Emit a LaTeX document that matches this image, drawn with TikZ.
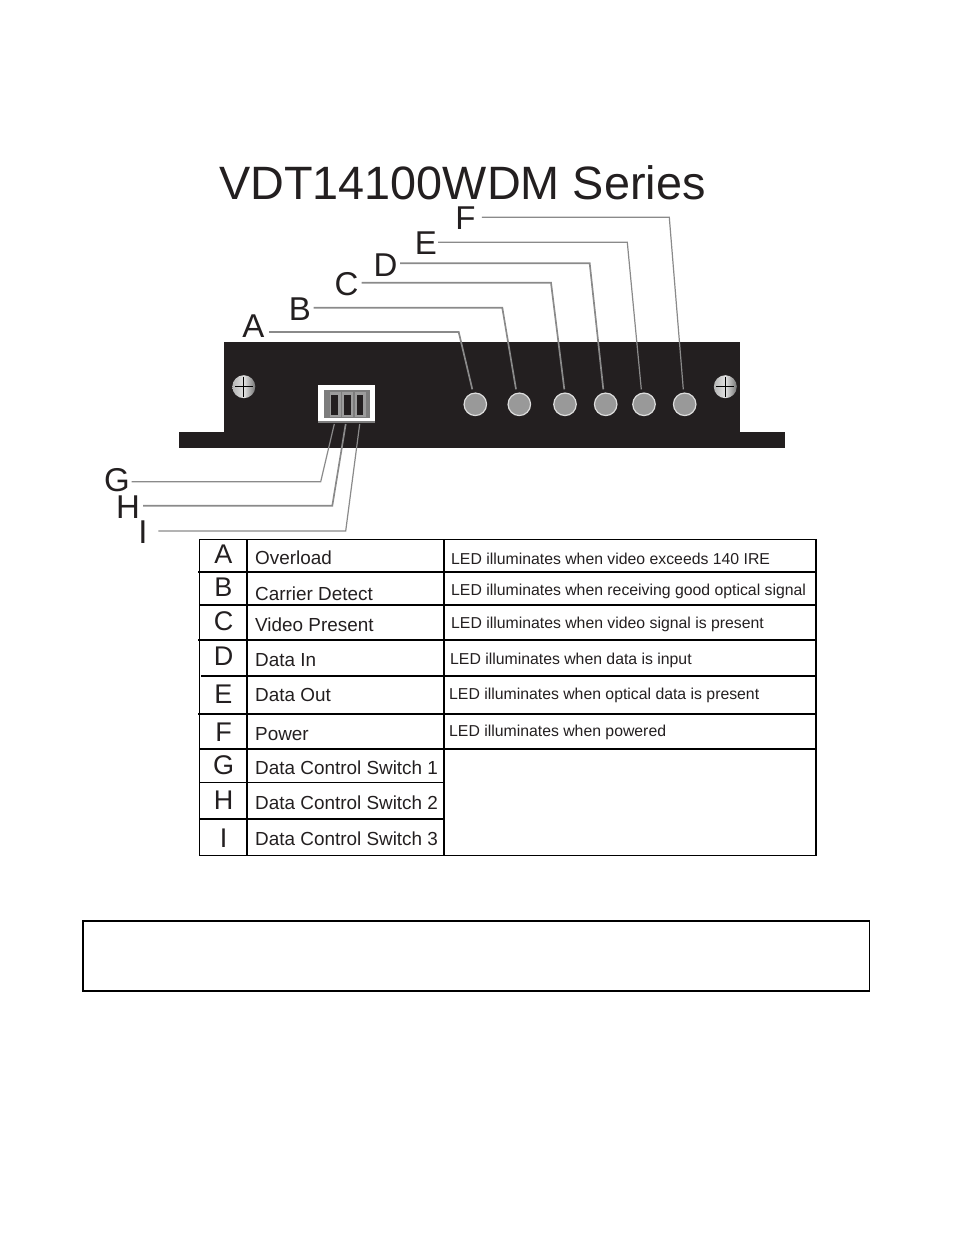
\documentclass[tikz,border=0pt]{standalone}
\usepackage{fontspec}
\setmainfont{Liberation Sans}
\definecolor{devblack}{HTML}{231F20}
\definecolor{leadgray}{HTML}{8A8A8A}
\definecolor{ledgray}{HTML}{999999}
\definecolor{ledring}{HTML}{DDDDDD}
\definecolor{swdark}{HTML}{7D7D7D}
\definecolor{swlight}{HTML}{9C9C9C}
\definecolor{scrl}{HTML}{B5B5B5}
\definecolor{scrm}{HTML}{E2E2E2}
\definecolor{scrr}{HTML}{747474}
\tikzset{
  title/.style={anchor=base west,inner sep=0pt,text=devblack,font=\fontsize{46.8}{47}\selectfont},
  callout/.style={anchor=base,inner sep=0pt,text=devblack,font=\fontsize{33}{33}\selectfont},
  rowkey/.style={anchor=base,inner sep=0pt,text=devblack,font=\fontsize{27}{27}\selectfont},
  rowname/.style={anchor=base west,inner sep=0pt,text=devblack,font=\fontsize{18.9}{19}\selectfont},
  rowinfo/.style={anchor=base west,inner sep=0pt,text=devblack,font=\fontsize{15.8}{16}\selectfont},
  leader/.style={draw=leadgray,line width=1.2pt,line join=miter},
  heavylead/.style={draw=leadgray,line width=1.7pt,line join=miter},
  led/.style={circle,draw=ledring,line width=1.2pt,fill=ledgray,minimum size=22.5pt,inner sep=0pt},
  screw/.style={circle,minimum size=23pt,inner sep=0pt,left color=scrl,right color=scrr,middle color=scrm},
  rule/.style={draw=black,line width=1.8pt},
  thinrule/.style={draw=black,line width=1.3pt},
}
\begin{document}
\begin{tikzpicture}[x=1pt,y=-1pt]
\useasboundingbox (0,0) rectangle (954,1235);
\node[title] (ttl) at (219,199) {VDT14100WDM Series};
% device
\fill[devblack] (224,342) rectangle (740,432);
\fill[devblack] (179,432) rectangle (785,448);
\node[screw] (sl) at (243.8,386.7) {};
\node[screw] (sr) at (725.3,386.7) {};
\draw[black,line width=0.9pt] (235,386.7)--(253,386.7) (243.8,376.5)--(243.8,396.5);
\draw[black,line width=0.9pt] (716,386.7)--(734.3,386.7) (725.3,377)--(725.3,396.7);
\node[led] (la) at (475.3,404.3) {};
\node[led] (lb) at (519.3,404.3) {};
\node[led] (lc) at (565,404.3) {};
\node[led] (ld) at (605.7,404.3) {};
\node[led] (le) at (644,404.3) {};
\node[led] (lf) at (684.7,404.3) {};
% switch
\fill[swdark] (318.3,385.3) rectangle (374.5,422.7);
\fill[white] (318.3,385.3) rectangle (374.5,420.7);
\fill[swdark] (324,390.3) rectangle (370,418);
\fill[swlight] (330,392.3) rectangle (340.7,417.3);
\fill[swlight] (342.3,392.3) rectangle (353.3,417.3);
\fill[swlight] (355,392.3) rectangle (365.7,417.3);
\fill[devblack] (331,394.7) rectangle (338.3,415.3);
\fill[devblack] (343.7,394.7) rectangle (351.3,415.3);
\fill[devblack] (356.7,394.7) rectangle (363.3,415.3);
% callouts
\node[callout] (ka) at (253.5,337) {A};
\node[callout] (kb) at (300,320) {B};
\node[callout] (kc) at (346.5,295.5) {C};
\node[callout] (kd) at (385.5,276) {D};
\node[callout] (ke) at (426,254) {E};
\node[callout] (kf) at (465.5,229) {F};
\node[callout] (kg) at (117,491.5) {G};
\node[callout] (kh) at (128,518.7) {H};
\node[callout] (ki) at (143,543.7) {I};
\coordinate (ca) at (458.7,332);   \coordinate (ta) at (472.3,389.3);
\coordinate (cb) at (502.3,307.7); \coordinate (tb) at (516,389.3);
\coordinate (cc) at (551,282.7);   \coordinate (tc) at (564.3,389.3);
\coordinate (cd) at (589.7,263.3); \coordinate (td) at (603.3,389.3);
\coordinate (ce) at (627.3,242.3); \coordinate (te) at (641.3,389.3);
\coordinate (cf) at (669.3,217.3); \coordinate (tf) at (683.3,389.3);
\coordinate (cg) at (320.7,481.7); \coordinate (tg) at (334.3,424);
\coordinate (ch) at (332.3,505.7); \coordinate (th) at (345.7,424);
\coordinate (ci) at (345.7,531);   \coordinate (ti) at (359.7,424);
\draw[heavylead] ([xshift=4.5pt]ka.east |- ca) -- (ca) -- (ta);
\draw[heavylead] ([xshift=2.5pt]kb.east |- cb) -- (cb) -- (tb);
\draw[heavylead] ([xshift=3pt]kc.east |- cc) -- (cc) -- (tc);
\draw[heavylead] ([xshift=2.5pt]kd.east |- cd) -- (cd) -- (td);
\draw[leader] ([xshift=1pt]ke.east |- ce) -- (ce) -- (te);
\draw[leader] ([xshift=6pt]kf.east |- cf) -- (cf) -- (tf);
\draw[leader] ([xshift=1.5pt]kg.east |- cg) -- (cg) -- (tg);
\draw[heavylead] ([xshift=3pt]kh.east |- ch) -- (ch) -- (th);
\draw[leader] ([xshift=10.5pt]ki.east |- ci) -- (ci) -- (ti);
% table rules
\draw[rule] (199.5,539.5) rectangle (816,855.5);
\draw[thinrule] (247,539.5)--(247,855.5);
\draw[rule] (444,539.5)--(444,855.5);
\draw[rule] (198,571.7)--(815,571.7);
\draw[rule] (199,605)--(815,605);
\draw[rule] (198,639.7)--(815,639.7);
\draw[rule] (201,675.7)--(815,675.7);
\draw[rule] (198,713.7)--(815,713.7);
\draw[rule] (199,748.7)--(815,748.7);
\draw[thinrule] (199,782.5)--(444,782.5);
\draw[rule] (199,819)--(444,819);
% table text
\node[rowkey] (ra) at (223.5,563) {A};
\node[rowkey] (rb) at (223.5,596) {B};
\node[rowkey] (rc) at (223.5,630) {C};
\node[rowkey] (rd) at (223.5,665.5) {D};
\node[rowkey] (re) at (223.5,703.5) {E};
\node[rowkey] (rf) at (223.5,741) {F};
\node[rowkey] (rg) at (223.5,774.5) {G};
\node[rowkey] (rh) at (223.5,809.5) {H};
\node[rowkey] (ri) at (223.5,847) {I};
\node[rowname] (na) at (255,564.5) {Overload};
\node[rowname] (nb) at (255,600) {Carrier Detect};
\node[rowname] (nc) at (255,631.5) {Video Present};
\node[rowname] (nd) at (255,666.5) {Data In};
\node[rowname] (ne) at (255,701.5) {Data Out};
\node[rowname] (nf) at (255,740) {Power};
\node[rowname] (ng) at (255,774.5) {Data Control Switch 1};
\node[rowname] (nh) at (255,809.5) {Data Control Switch 2};
\node[rowname] (ni) at (255,845.5) {Data Control Switch 3};
\node[rowinfo] (ia) at (451,564.5) {LED illuminates when video exceeds 140 IRE};
\node[rowinfo] (ib) at (451,595.5) {LED illuminates when receiving good optical signal};
\node[rowinfo] (ic) at (451,628.5) {LED illuminates when video signal is present};
\node[rowinfo] (id) at (450,664) {LED illuminates when data is input};
\node[rowinfo] (ie) at (449,699.5) {LED illuminates when optical data is present};
\node[rowinfo] (if) at (449,736) {LED illuminates when powered};
% empty note box
\draw[rule] (83,921) rectangle (869.5,991);
\end{tikzpicture}
\end{document}
